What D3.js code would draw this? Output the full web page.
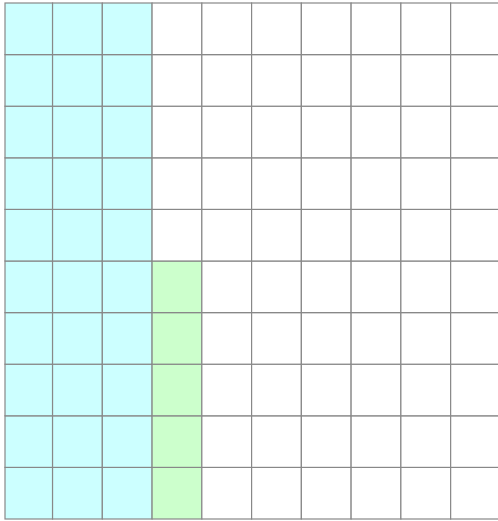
<!DOCTYPE html>
<html>
<head>
<meta charset="utf-8">
<script src="https://cdn.jsdelivr.net/npm/d3@7"></script>
<style>
  html, body { margin: 0; padding: 0; background: #fff; overflow: hidden; }
</style>
</head>
<body>
<script>
// Waffle: 10 x 10 cells, filled column by column from the bottom
const categories = ["A", "B", "rest"];
const counts = [30, 5, 65];
const fills = ["#ccffff", "#ccffcc", "#ffffff"];

const nCols = 10;
const nRows = 10;

const width = 498;
const height = 521;
// grid runs a little past the left edge; first column is cut at leftEdge
const leftEdge = 5;

// Expand counts into one cell per unit
const cells = [];
categories.forEach((c, ci) => {
    for (let k = 0; k < counts[ci]; k++) cells.push({ cat: c, ci });
});
cells.forEach((d, i) => {
    d.col = Math.floor(i / nRows);
    d.row = nRows - 1 - (i % nRows);
});

const x = d3.scaleBand().domain(d3.range(nCols)).range([2.8, 500.4]);
const y = d3.scaleBand().domain(d3.range(nRows)).range([3, 519]);
const color = d3.scaleOrdinal().domain(categories).range(fills);

const cellX = d => Math.max(leftEdge, x(d.col));
const cellW = d => x(d.col) + x.bandwidth() - cellX(d);

const svg = d3.select("body")
    .append("svg")
    .attr("width", width)
    .attr("height", height);

svg.append("g")
    .selectAll("rect")
    .data(cells)
    .join("rect")
    .attr("x", cellX)
    .attr("y", d => y(d.row))
    .attr("width", cellW)
    .attr("height", y.bandwidth())
    .attr("fill", d => color(d.cat))
    .attr("stroke", "#888888")
    .attr("stroke-width", 1.2);
</script>
</body>
</html>
